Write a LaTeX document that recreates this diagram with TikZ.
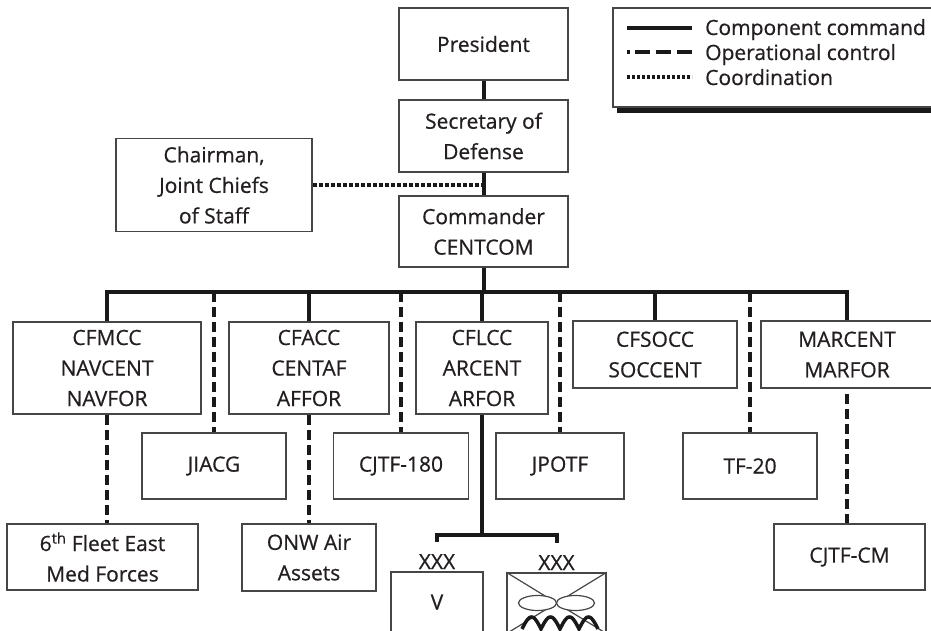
\documentclass[tikz,border=0pt]{standalone}
\usepackage{fontspec}
\setmainfont{Open Sans}
\newfontfamily\orgfont{Open Sans}[FakeBold=0.6]
\usepackage{tikz}
\usepackage{xcolor}
\usetikzlibrary{positioning}
\definecolor{orgblack}{RGB}{35, 31, 32}
\definecolor{orgline}{RGB}{25, 25, 25}
\definecolor{orggray}{RGB}{70, 70, 70}
\tikzset{
    orgbox/.style={rectangle, draw=orggray, line width=1.5pt, fill=white, inner sep=0pt, align=center, text=orgblack, font=\orgfont\fontsize{21}{30.5}\selectfont},
    tallbox/.style={orgbox, minimum height=92pt},
    flatbox/.style={orgbox, minimum height=67pt},
    topbox/.style={orgbox, minimum width=169pt, minimum height=72pt},
    corpsbox/.style={orgbox, minimum height=60pt},
    corpslabel/.style={inner sep=0pt, text=orgblack, font=\orgfont\fontsize{21}{24}\selectfont},
    legendtext/.style={inner sep=0pt, anchor=base west, text=orgblack, font=\orgfont\fontsize{21}{24}\selectfont},
    cmdline/.style={draw=orgline, line width=4pt},
    opline/.style={cmdline, dash pattern=on 10pt off 5pt},
    coordline/.style={cmdline, dash pattern=on 4pt off 2pt}
}

\begin{document}
\begin{tikzpicture}[x=1pt, y=-1pt]
    \clip (0,0) rectangle (931,631);
    \node[topbox] (pres) at (483.5,44) {President};
    \node[topbox] (secdef) at (483.5,136) {Secretary of\\Defense};
    \node[topbox, minimum height=71pt] (cdr) at (483.5,231.5) {Commander\\CENTCOM};
    \node[orgbox, minimum width=196pt, minimum height=93pt] (cjcs) at (214,185) {Chairman,\\Joint Chiefs\\of Staff};

    \node[tallbox, minimum width=188pt] (cfmcc) at (107,368) {CFMCC\\NAVCENT\\NAVFOR};
    \node[tallbox, minimum width=160pt] (cfacc) at (309,368) {CFACC\\CENTAF\\AFFOR};
    \node[tallbox, minimum width=132pt] (cflcc) at (482,368) {CFLCC\\ARCENT\\ARFOR};
    \node[flatbox, minimum width=164pt] (cfsocc) at (655,354.5) {CFSOCC\\SOCCENT};
    \node[flatbox, minimum width=172pt] (marcent) at (847,354.5) {MARCENT\\MARFOR};

    \node[orgbox, minimum width=144pt, minimum height=66pt] (jiacg) at (214,466) {JIACG};
    \node[orgbox, minimum width=135pt, minimum height=66pt] (cjtf180) at (401,466) {CJTF-180};
    \node[orgbox, minimum width=128pt, minimum height=66pt] (jpotf) at (560,466) {JPOTF};
    \node[orgbox, minimum width=134pt, minimum height=66pt] (tf20) at (750,466) {TF-20};

    \node[orgbox, minimum width=191pt, minimum height=66pt] (fleet) at (102.5,557) {6\textsuperscript{th} Fleet East\\Med Forces};
    \node[orgbox, minimum width=134pt, minimum height=67pt] (onw) at (309,557.5) {ONW Air\\Assets};
    \node[orgbox, minimum width=151pt, minimum height=66pt] (cjtfcm) at (849.5,557) {CJTF-CM};

    \node[corpsbox, minimum width=92pt] (corpsa) at (437,602) {V};
    \node[corpsbox, minimum width=99pt] (corpsb) at (556.5,603) {};
    \node[corpslabel, above=2pt of corpsa] (xxxa) {XXX};
    \node[corpslabel, above=2pt of corpsb] (xxxb) {XXX};

    \coordinate (bus) at (483.5,292);
    \coordinate (corpsbar) at (482,535);

    \draw[cmdline] (pres.south) -- (secdef.north);
    \draw[cmdline] (secdef.south) -- (cdr.north);
    \draw[coordline] (cjcs.east) -- (cjcs.east -| secdef.south);
    \draw[cmdline] (cdr.south) -- (cdr.south |- bus);
    \draw[cmdline] (cfmcc.north) |- (marcent.north |- bus) -- (marcent.north);
    \draw[cmdline] (cfacc.north) -- (cfacc.north |- bus);
    \draw[cmdline] (cflcc.north) -- (cflcc.north |- bus);
    \draw[cmdline] (cfsocc.north) -- (cfsocc.north |- bus);

    \draw[opline] (jiacg.north |- bus) -- (jiacg.north);
    \draw[opline] (cjtf180.north |- bus) -- (cjtf180.north);
    \draw[opline] (jpotf.north |- bus) -- (jpotf.north);
    \draw[opline] (tf20.north |- bus) -- (tf20.north);
    \draw[opline] (cfmcc.south) -- (cfmcc.south |- fleet.north);
    \draw[opline] (cfacc.south) -- (cfacc.south |- onw.north);
    \draw[opline] ([yshift=-5pt]marcent.south) -- (marcent.south |- cjtfcm.north);

    \draw[cmdline] (cflcc.south) -- (cflcc.south |- corpsbar);
    \draw[cmdline] ([yshift=12pt]xxxa.north) |- (corpsbar) -| ([yshift=12pt]xxxb.north);

    \draw[orggray, line width=1.2pt] (corpsb.north west) -- (corpsb.south east);
    \draw[orggray, line width=1.2pt] (corpsb.south west) -- (corpsb.north east);
    \draw[orggray, line width=1.2pt, fill=white] ([xshift=-19pt]corpsb.center) ellipse [x radius=19pt, y radius=7.5pt];
    \draw[orggray, line width=1.2pt, fill=white] ([xshift=19pt]corpsb.center) ellipse [x radius=19pt, y radius=7.5pt];
    \draw[orgline, line width=3.5pt] plot[domain=0:4, samples=81] ({522+19*\x},{629-12*abs(sin(180*\x))});

    \fill[orgline] (617,12) rectangle (945,113);
    \draw[orggray, line width=1.2pt, fill=white] (613,8) rectangle (945,107);
    \node[legendtext] (lgcmd) at (705,35) {Component command};
    \node[legendtext] (lgop) at (705,60) {Operational control};
    \node[legendtext] (lgcoord) at (705,85) {Coordination};
    \draw[cmdline, line width=3.5pt] (627,28) -- (692,28);
    \draw[cmdline, line width=3.5pt, dash pattern=on 3pt off 5pt on 15pt off 6pt on 15pt off 6pt on 15pt] (627,52) -- (692,52);
    \draw[cmdline, line width=3.5pt, dash pattern=on 3pt off 2pt] (627,77) -- (692,77);
\end{tikzpicture}
\end{document}
